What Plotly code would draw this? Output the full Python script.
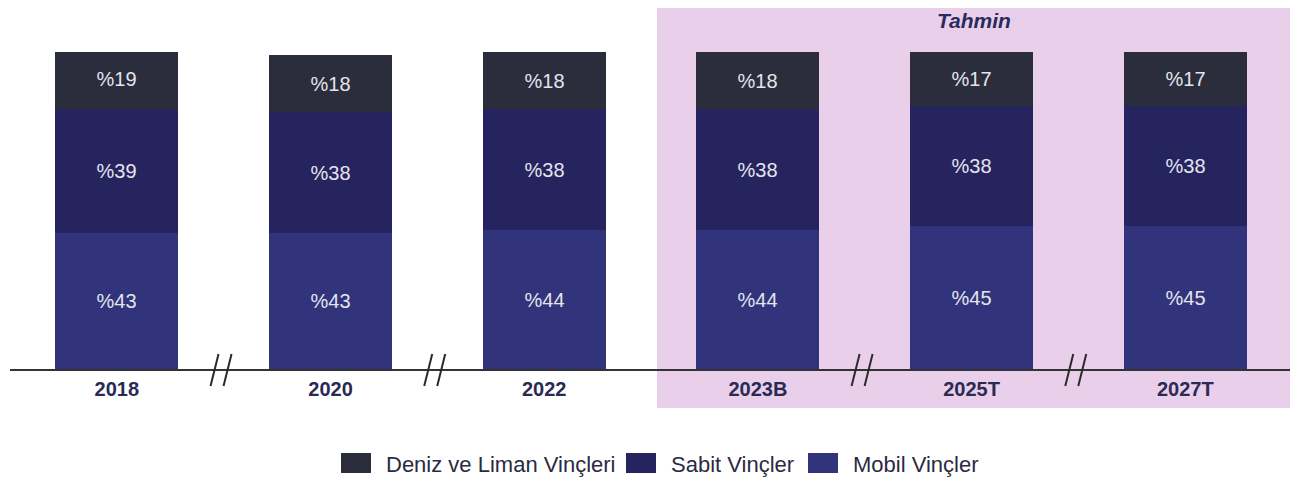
import plotly.graph_objects as go

# yillar ve pay verileri (%)
yillar = ["2018", "2020", "2022", "2023B", "2025T", "2027T"]
mobil = [43, 43, 44, 44, 45, 45]
sabit = [39, 38, 38, 38, 38, 38]
deniz = [19, 18, 18, 18, 17, 17]

seri_adlari = ["Mobil Vinçler", "Sabit Vinçler", "Deniz ve Liman Vinçleri"]
renkler = ["#31347a", "#26245f", "#2b2d3d"]
# kirik eksen isaretleri hangi cubuklarin arasinda
kiriklar = [0, 1, 3, 4]

FONT = "Liberation Sans, Arial, sans-serif"
x = list(range(len(yillar)))

fig = go.Figure()
for ad, degerler, renk in zip(seri_adlari, [mobil, sabit, deniz], renkler):
    fig.add_trace(go.Bar(
        x=x, y=degerler, name=ad,
        marker=dict(color=renk, line=dict(width=0)),
        width=0.575,
        text=[f"%{v}" for v in degerler],
        textposition="inside", insidetextanchor="middle",
        textangle=0, constraintext="none",
        textfont=dict(color="#e4e4ee", size=20, family=FONT),
        showlegend=False,
    ))

# sayfa govdesinin 8px kenar boslugu var
OFF = 8
W, H = 1300 - OFF, 483 - OFF
L, T = 10 - OFF, 52 - OFF
R = W - (1290 - OFF)
B = H - (369 - OFF)
pw, ph = W - L - R, H - T - B
x0, x1 = -0.5, 5.49


def sx(p):  # sayfa pikseli -> paper x
    return (p - OFF - L) / pw


def sy(p):  # sayfa pikseli -> paper y
    return (T + ph - (p - OFF)) / ph


def px_x(v):
    return (v - x0) / (x1 - x0)


# tahmin bolgesi
fig.add_shape(type="rect", xref="paper", yref="paper",
              x0=sx(657), x1=1.0, y0=sy(408), y1=sy(2),
              fillcolor="#e9cfe9", line=dict(width=0), layer="below")
fig.add_annotation(xref="paper", yref="paper",
                   x=(sx(657) + 1.0) / 2, y=sy(21),
                   xanchor="center", yanchor="middle",
                   text="<b><i>Tahmin</i></b>", showarrow=False,
                   font=dict(size=21, color="#2a2a5c", family=FONT))

# kirik eksen isaretleri
for k in kiriklar:
    cx = px_x(k + 0.49)
    for dx0, dx1 in [(-11, -3), (2, 10)]:
        fig.add_shape(type="line", xref="paper", yref="paper",
                      x0=cx + dx0 / pw, x1=cx + dx1 / pw,
                      y0=-17 / ph, y1=15 / ph,
                      line=dict(color="#2a2a2a", width=2))

# el yapimi lejant
lejant = [(341, 2), (626, 1), (808, 0)]
for sol, i in lejant:
    fig.add_shape(type="rect", xref="paper", yref="paper",
                  x0=sx(sol), x1=sx(sol + 30),
                  y0=sy(473), y1=sy(453),
                  fillcolor=renkler[i], line=dict(width=0))
    fig.add_annotation(xref="paper", yref="paper",
                       x=sx(sol + 43), y=sy(464),
                       xanchor="left", yanchor="middle", showarrow=False,
                       text=seri_adlari[i],
                       font=dict(size=22, color="#2a2a42", family=FONT))

fig.update_layout(
    width=W, height=H,
    margin=dict(l=L, r=R, t=T, b=B),
    barmode="stack", bargap=0,
    plot_bgcolor="rgba(0,0,0,0)", paper_bgcolor="white",
    font=dict(family=FONT),
    xaxis=dict(range=[x0, x1], tickmode="array", tickvals=x,
               ticktext=[f"<b>{y}</b>" for y in yillar],
               tickfont=dict(size=20, color="#2a2a55"),
               showline=True, linecolor="#333333", linewidth=1.5,
               showgrid=False, zeroline=False, ticks="",
               ticklabelstandoff=1, fixedrange=True),
    yaxis=dict(range=[0, 100], visible=False, fixedrange=True),
)

fig.write_html("out.html")
